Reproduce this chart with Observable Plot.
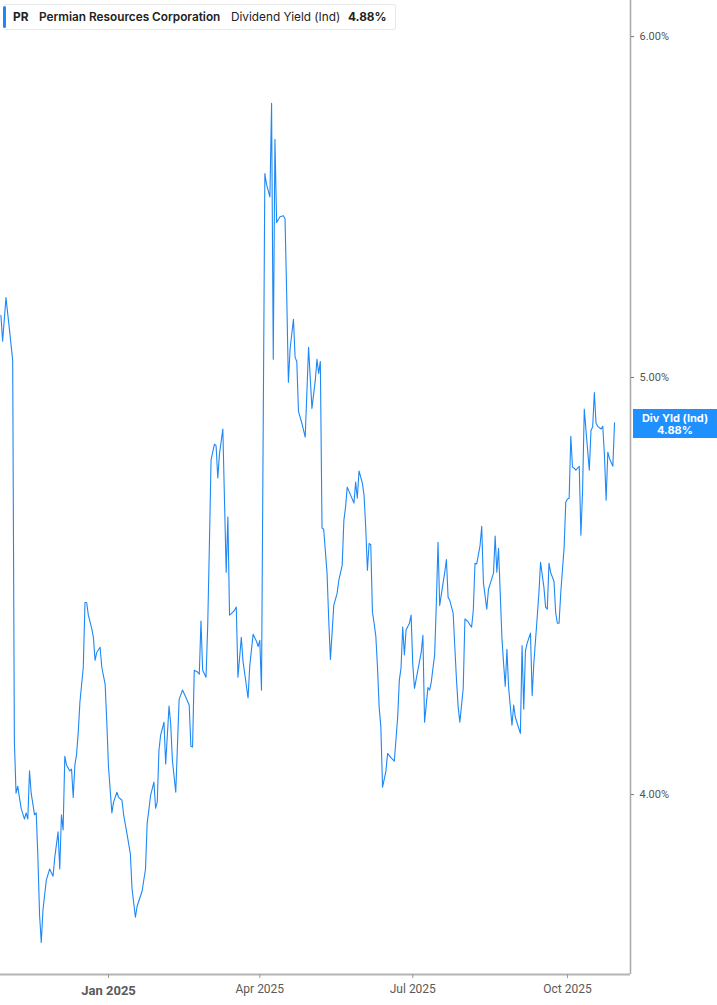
<!DOCTYPE html>
<html>
<head>
<meta charset="utf-8">
<script src="https://cdn.jsdelivr.net/npm/d3@7"></script>
<script src="https://cdn.jsdelivr.net/npm/@observablehq/plot@0.6"></script>
<style>
  html, body { margin: 0; padding: 0; background: #fff; }
  #wrap { position: relative; width: 717px; height: 1005px; overflow: hidden; }
  #legend {
    position: absolute; left: 3px; top: 4px; width: 393px; height: 26px;
    box-sizing: border-box; border: 1px solid #e8e8e8; border-left: none; border-radius: 3px;
    background: #fff; font-family: Inter, "Noto Sans", sans-serif; font-size: 11.8px; color: #222;
    white-space: nowrap;
  }
  #legend .bar { position: absolute; left: 0; top: 1px; bottom: 1px; width: 3px; background: #1e88f5; border-radius: 2px; }
  #legend span { position: absolute; top: 5px; }
  #tag {
    position: absolute; left: 633px; width: 84px; height: 29px; background: #1e90ff; color: #fff;
    font-family: Inter, "Noto Sans", sans-serif; font-size: 11px; font-weight: 700; text-align: center;
    line-height: 12px; box-sizing: border-box; padding-top: 3px;
  }
</style>
</head>
<body>
<div id="wrap"></div>
<script>
const dates = [
"2024-10-29","2024-10-30","2024-11-01","2024-11-03","2024-11-05","2024-11-06","2024-11-07","2024-11-08","2024-11-09","2024-11-10",
"2024-11-12","2024-11-13","2024-11-14","2024-11-15","2024-11-16","2024-11-18","2024-11-19","2024-11-20","2024-11-21","2024-11-22",
"2024-11-23","2024-11-25","2024-11-27","2024-11-29","2024-11-30","2024-12-02","2024-12-03","2024-12-04","2024-12-05","2024-12-06",
"2024-12-07","2024-12-09","2024-12-10","2024-12-11","2024-12-12","2024-12-13","2024-12-14","2024-12-15","2024-12-17","2024-12-18",
"2024-12-19","2024-12-20","2024-12-22","2024-12-23","2024-12-24","2024-12-25","2024-12-27","2024-12-28","2024-12-30","2024-12-31",
"2025-01-01","2025-01-03","2025-01-04","2025-01-06","2025-01-07","2025-01-09","2025-01-10","2025-01-12","2025-01-14","2025-01-15",
"2025-01-17","2025-01-18","2025-01-21","2025-01-23","2025-01-24","2025-01-25","2025-01-26","2025-01-28","2025-01-29","2025-01-30",
"2025-01-31","2025-02-01","2025-02-03","2025-02-04","2025-02-06","2025-02-07","2025-02-08","2025-02-10","2025-02-12","2025-02-14",
"2025-02-16","2025-02-18","2025-02-19","2025-02-20","2025-02-21","2025-02-23","2025-02-24","2025-02-25","2025-02-26","2025-02-28",
"2025-03-01","2025-03-02","2025-03-03","2025-03-05","2025-03-06","2025-03-07","2025-03-08","2025-03-10","2025-03-11","2025-03-12",
"2025-03-13","2025-03-14","2025-03-16","2025-03-17","2025-03-18","2025-03-19","2025-03-21","2025-03-22","2025-03-25","2025-03-26",
"2025-03-28","2025-03-30","2025-03-31","2025-04-01","2025-04-02","2025-04-04","2025-04-05","2025-04-07","2025-04-08","2025-04-09",
"2025-04-10","2025-04-11","2025-04-13","2025-04-15","2025-04-16","2025-04-17","2025-04-18","2025-04-19","2025-04-21","2025-04-22",
"2025-04-23","2025-04-24","2025-04-26","2025-04-28","2025-04-30","2025-05-02","2025-05-04","2025-05-05","2025-05-06","2025-05-07",
"2025-05-08","2025-05-09","2025-05-11","2025-05-12","2025-05-13","2025-05-15","2025-05-17","2025-05-18","2025-05-20","2025-05-21",
"2025-05-22","2025-05-23","2025-05-25","2025-05-27","2025-05-28","2025-05-29","2025-05-30","2025-06-01","2025-06-02","2025-06-03",
"2025-06-04","2025-06-05","2025-06-06","2025-06-07","2025-06-08","2025-06-09","2025-06-10","2025-06-11","2025-06-12","2025-06-13",
"2025-06-15","2025-06-16","2025-06-18","2025-06-20","2025-06-22","2025-06-23","2025-06-24","2025-06-25","2025-06-26","2025-06-27",
"2025-06-29","2025-06-30","2025-07-01","2025-07-02","2025-07-04","2025-07-06","2025-07-07","2025-07-08","2025-07-10","2025-07-11",
"2025-07-12","2025-07-13","2025-07-14","2025-07-15","2025-07-16","2025-07-17","2025-07-19","2025-07-20","2025-07-21","2025-07-22",
"2025-07-23","2025-07-25","2025-07-26","2025-07-27","2025-07-28","2025-07-29","2025-07-31","2025-08-01","2025-08-03","2025-08-04",
"2025-08-05","2025-08-06","2025-08-07","2025-08-08","2025-08-10","2025-08-11","2025-08-12","2025-08-14","2025-08-15","2025-08-18",
"2025-08-19","2025-08-20","2025-08-21","2025-08-23","2025-08-24","2025-08-25","2025-08-26","2025-08-27","2025-08-29","2025-08-30",
"2025-08-31","2025-09-03","2025-09-04","2025-09-05","2025-09-06","2025-09-07","2025-09-09","2025-09-10","2025-09-11","2025-09-13",
"2025-09-14","2025-09-15","2025-09-17","2025-09-18","2025-09-19","2025-09-20","2025-09-21","2025-09-23","2025-09-24","2025-09-25",
"2025-09-26","2025-09-27","2025-09-29","2025-09-30","2025-10-01","2025-10-02","2025-10-03","2025-10-04","2025-10-05","2025-10-06",
"2025-10-08","2025-10-09","2025-10-10","2025-10-11","2025-10-12","2025-10-14","2025-10-15","2025-10-16","2025-10-17","2025-10-18",
"2025-10-19","2025-10-21","2025-10-22","2025-10-23","2025-10-24","2025-10-25","2025-10-26","2025-10-28","2025-10-29"
];
const yieldPct = [
5.169,5.098,5.218,5.133,5.046,4.116,4.003,4.018,3.994,3.971,
3.948,3.961,3.948,4.051,4.003,3.957,3.961,3.867,3.750,3.696,
3.760,3.821,3.844,3.829,3.867,3.921,3.844,3.957,3.925,4.083,
4.064,4.051,4.055,3.994,4.064,4.087,4.136,4.203,4.282,4.433,
4.433,4.403,4.372,4.351,4.298,4.316,4.328,4.282,4.243,4.156,
4.059,3.961,3.984,4.005,3.994,3.988,3.957,3.917,3.875,3.803,
3.746,3.768,3.799,3.844,3.940,3.967,3.998,4.027,3.971,3.984,
4.096,4.129,4.158,4.066,4.194,4.154,4.074,4.005,4.209,4.230,
4.214,4.196,4.105,4.103,4.275,4.271,4.266,4.389,4.275,4.259,
4.377,4.570,4.784,4.825,4.820,4.738,4.799,4.864,4.680,4.505,
4.640,4.403,4.410,4.415,4.422,4.259,4.351,4.296,4.212,4.284,
4.358,4.342,4.330,4.344,4.230,5.576,5.544,5.507,5.790,5.049,
5.679,5.432,5.449,5.452,5.443,5.224,4.987,5.076,5.158,5.054,
5.043,4.910,4.879,4.843,5.081,4.918,4.992,5.049,5.011,5.043,
4.613,4.610,4.503,4.391,4.300,4.426,4.455,4.486,4.522,4.632,
4.665,4.715,4.695,4.675,4.728,4.687,4.756,4.725,4.695,4.615,
4.510,4.575,4.572,4.410,4.384,4.354,4.282,4.191,4.147,4.016,
4.050,4.089,4.080,4.072,4.169,4.253,4.280,4.375,4.310,4.368,
4.384,4.403,4.287,4.234,4.275,4.316,4.356,4.158,4.236,4.230,
4.248,4.280,4.310,4.431,4.578,4.426,4.479,4.505,4.536,4.445,
4.438,4.408,4.328,4.253,4.191,4.158,4.234,4.394,4.387,4.380,
4.375,4.415,4.527,4.525,4.570,4.617,4.481,4.417,4.464,4.503,
4.593,4.505,4.563,4.351,4.291,4.239,4.323,4.236,4.151,4.196,
4.169,4.133,4.332,4.187,4.319,4.337,4.361,4.218,4.291,4.398,
4.455,4.529,4.469,4.422,4.417,4.527,4.505,4.483,4.408,4.384,
4.384,4.455,4.565,4.677,4.685,4.687,4.845,4.766,4.763,4.758,
4.768,4.595,4.707,4.916,4.861,4.758,4.861,4.869,4.960,4.879,
4.871,4.864,4.871,4.796,4.682,4.804,4.788,4.768,4.88
];
const xDomain = ["2024-10-28T18:00:00Z", "2025-11-07T12:00:00Z"];
const yDomain = [3.633, 6.117];
const yTicks = [4, 5, 6];
const janTick = ["2025-01-01"];
const otherTicks = ["2025-04-01", "2025-07-01", "2025-10-01"];
const ticker = "PR";
const company = "Permian Resources Corporation";
const metric = "Dividend Yield (Ind)";
const tagLabel = "Div Yld (Ind)";

const data = dates.map((d, i) => ({date: new Date(d), value: yieldPct[i]}));
const last = data[data.length - 1];
const fmt = d3.utcFormat("%b %Y");

const chart = Plot.plot({
  width: 717, height: 1005,
  marginLeft: 0, marginRight: 87, marginTop: 0, marginBottom: 31,
  x: {type: "utc", domain: xDomain.map(d => new Date(d)), label: null},
  y: {type: "log", domain: yDomain, label: null},
  style: {fontFamily: "Roboto, 'Noto Sans', sans-serif", fontSize: "12px", color: "#555", background: "#fff"},
  marks: [
    Plot.ruleY([yDomain[0]], {stroke: "#b4b4b4", strokeWidth: 2}),
    Plot.ruleX([new Date(xDomain[1])], {stroke: "#a8a8a8", strokeWidth: 1.5}),
    Plot.axisX(otherTicks.map(d => new Date(d)), {tickFormat: fmt, tickSize: 4, tickPadding: 6, stroke: "#999", fill: "#5a5a5a", fontSize: 12, label: null}),
    Plot.axisX(janTick.map(d => new Date(d)), {tickFormat: fmt, tickSize: 4, tickPadding: 7, stroke: "#999", fill: "#5a5a5a", fontSize: 13, fontWeight: "bold", label: null}),
    Plot.axisY(yTicks, {anchor: "right", tickFormat: d => d.toFixed(2) + "%", tickSize: 3, tickPadding: 6, stroke: "#777", fill: "#555", fontSize: 11, label: null}),
    Plot.lineY(data, {x: "date", y: "value", stroke: "#1e88f5", strokeWidth: 1.1})
  ]
});

const wrap = document.getElementById("wrap");
wrap.appendChild(chart);

const legend = document.createElement("div");
legend.id = "legend";
legend.innerHTML = `<div class="bar"></div>
  <span style="left:10px;font-weight:700">${ticker}</span>
  <span style="left:36px;font-weight:600">${company}</span>
  <span style="left:228px;font-weight:400">${metric}</span>
  <span style="left:345px;font-weight:700">${last.value.toFixed(2)}%</span>`;
wrap.appendChild(legend);

const yPix = chart.scale("y").apply(last.value);
const tag = document.createElement("div");
tag.id = "tag";
tag.style.top = (yPix - 13) + "px";
tag.innerHTML = `${tagLabel}<br>${last.value.toFixed(2)}%`;
wrap.appendChild(tag);
</script>
</body>
</html>
